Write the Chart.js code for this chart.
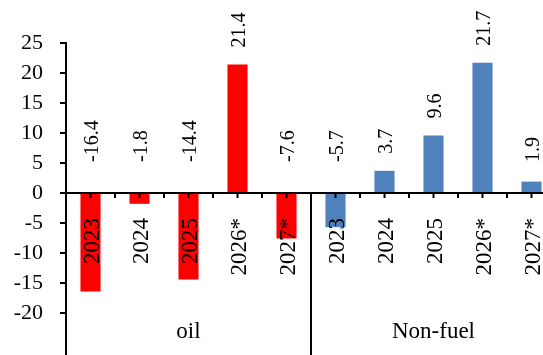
<!DOCTYPE html>
<html>
<head>
<meta charset="utf-8">
<script src="https://cdn.jsdelivr.net/npm/chart.js@4"></script>
<style>
  body { margin: 0; overflow: hidden; background: #fff; }
  #wrap { width: 560px; height: 355px; }
</style>
</head>
<body>
<div id="wrap"><canvas id="trade" width="560" height="355"></canvas></div>
<script>
const years = ['2023', '2024', '2025', '2026*', '2027*'];
const groups = ['oil', 'Non-fuel'];
const oil = [-16.4, -1.8, -14.4, 21.4, -7.6];
const nonFuel = [-5.7, 3.7, 9.6, 21.7, 1.9];
const yTicks = [-20, -15, -10, -5, 0, 5, 10, 15, 20, 25];

const FONT = '"Liberation Serif", "Times New Roman", serif';
const values = oil.concat(nonFuel);
const labels = years.map(y => groups[0] + ' ' + y).concat(years.map(y => groups[1] + ' ' + y));
const colors = oil.map(() => '#FF0000').concat(nonFuel.map(() => '#4F81BD'));

// zero axis, group divider, category labels and value labels
const overlay = {
  id: 'overlay',
  afterDatasetsDraw(chart) {
    const ctx = chart.ctx;
    const x = chart.scales.x, y = chart.scales.y;
    const area = chart.chartArea;
    const y0 = y.getPixelForValue(0);
    const n = values.length;
    const sepX = (x.getPixelForValue(years.length - 1) + x.getPixelForValue(years.length)) / 2;

    ctx.save();
    ctx.strokeStyle = '#000';
    ctx.lineWidth = 2;
    ctx.beginPath();
    ctx.moveTo(area.left, y0);
    ctx.lineTo(area.right, y0);
    ctx.moveTo(sepX, y0);
    ctx.lineTo(sepX, area.bottom);
    for (let i = 0; i < n; i++) {
      const cx = x.getPixelForValue(i);
      ctx.moveTo(cx, y0);
      ctx.lineTo(cx, y0 + 5);
      if (i < n - 1) {
        const bx = (cx + x.getPixelForValue(i + 1)) / 2;
        ctx.moveTo(bx, y0);
        ctx.lineTo(bx, y0 + 5);
      }
    }
    ctx.stroke();

    ctx.fillStyle = '#000';
    for (let i = 0; i < n; i++) {
      const cx = x.getPixelForValue(i);
      const v = values[i];

      // year label, reading upward, ending below the zero line
      ctx.save();
      ctx.font = '23px ' + FONT;
      ctx.translate(cx + 8, y0 + 25);
      ctx.rotate(-Math.PI / 2);
      ctx.textAlign = 'right';
      ctx.textBaseline = 'alphabetic';
      ctx.fillText(years[i % years.length], 0, 0);
      ctx.restore();

      // value label above the bar (or above zero for negatives)
      let start = y0 - 31;
      if (v > 0) start = Math.min(y.getPixelForValue(v) - 17, start);
      ctx.save();
      ctx.font = '20px ' + FONT;
      ctx.translate(cx + 7, start);
      ctx.rotate(-Math.PI / 2);
      ctx.textAlign = 'left';
      ctx.textBaseline = 'alphabetic';
      ctx.fillText(v.toFixed(1), 0, 0);
      ctx.restore();
    }

    ctx.font = '23px ' + FONT;
    ctx.textAlign = 'center';
    ctx.textBaseline = 'alphabetic';
    ctx.fillText(groups[0], (area.left + sepX) / 2, 338);
    ctx.fillText(groups[1], (sepX + area.right) / 2, 338);
    ctx.restore();
  }
};

new Chart(document.getElementById('trade'), {
  type: 'bar',
  data: {
    labels: labels,
    datasets: [{
      data: values,
      backgroundColor: colors,
      borderWidth: 0,
      categoryPercentage: 1,
      barPercentage: 0.41
    }]
  },
  options: {
    responsive: false,
    animation: false,
    layout: { padding: { top: 43, right: 4, left: 0, bottom: 0 } },
    plugins: { legend: { display: false }, tooltip: { enabled: false } },
    scales: {
      x: { display: false, offset: true },
      y: {
        min: -27,
        max: 25,
        afterBuildTicks: scale => { scale.ticks = yTicks.map(v => ({ value: v })); },
        afterFit: scale => {
          scale.width = 66;
          scale.paddingTop = 0;
          scale.paddingBottom = 0;
        },
        border: { display: true, color: '#000', width: 2 },
        grid: { drawOnChartArea: false, drawTicks: true, tickLength: 6, color: '#000', lineWidth: 2 },
        ticks: {
          color: '#000',
          padding: 17,
          font: { family: FONT, size: 22 },
          callback: v => String(v)
        }
      }
    }
  },
  plugins: [overlay]
});
</script>
</body>
</html>
